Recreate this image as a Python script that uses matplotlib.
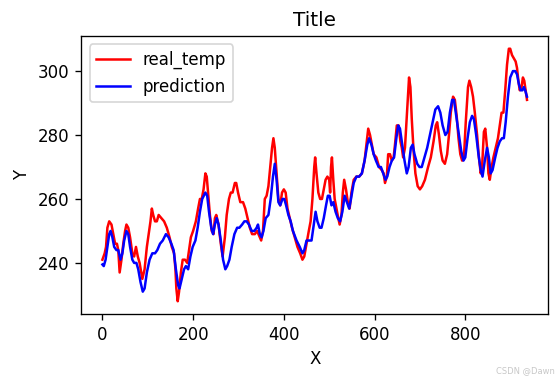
import matplotlib
matplotlib.use('Agg')
import matplotlib.pyplot as plt

# values (x index, temperature)
real_x = [0, 5, 8, 11, 15, 20, 24, 28, 32, 35,
          38, 42, 46, 50, 53, 57, 61, 66, 70, 74,
          78, 82, 88, 93, 98, 103, 106, 109, 112, 116,
          120, 124, 130, 136, 142, 148, 153, 158, 161, 163,
          166, 169, 173, 177, 182, 187, 191, 195, 200, 206,
          211, 215, 219, 223, 227, 230, 233, 237, 241, 245,
          248, 251, 256, 261, 265, 270, 274, 279, 283, 287,
          292, 295, 299, 304, 310, 315, 320, 325, 330, 336,
          341, 347, 350, 354, 358, 362, 366, 370, 374, 377,
          380, 384, 388, 392, 396, 400, 404, 408, 413, 418,
          424, 430, 436, 441, 445, 450, 455, 459, 463, 467,
          469, 472, 476, 480, 484, 488, 492, 496, 500, 502,
          504, 506, 509, 512, 516, 520, 523, 527, 530, 533,
          537, 541, 545, 549, 554, 560, 566, 572, 578, 582,
          586, 590, 594, 598, 604, 610, 616, 620, 623, 627,
          630, 634, 638, 642, 645, 649, 653, 657, 660, 663,
          667, 672, 676, 679, 682, 686, 690, 695, 700, 705,
          711, 718, 724, 730, 735, 738, 742, 746, 750, 755,
          760, 764, 768, 773, 777, 781, 785, 789, 793, 797,
          801, 806, 809, 813, 817, 821, 826, 830, 834, 837,
          841, 844, 848, 851, 854, 858, 862, 867, 872, 876,
          880, 884, 888, 892, 896, 899, 903, 907, 911, 914,
          917, 920, 924, 927, 930, 933, 936]
real_temp = [241, 243, 245, 251, 253, 252, 249, 246, 246, 244,
             237, 241, 246, 250, 252, 251, 248, 243, 242, 245,
             242, 240, 235, 238, 245, 250, 253, 257, 255, 253,
             253, 255, 254, 253, 251, 248, 245, 243, 238, 232,
             228, 231, 237, 241, 241, 240, 244, 248, 250, 253,
             257, 260, 260, 263, 268, 267, 262, 255, 250, 249,
             254, 255, 252, 246, 242, 248, 255, 260, 262, 262,
             265, 265, 262, 259, 259, 257, 254, 251, 249, 249,
             250, 248, 247, 250, 260, 261, 264, 270, 276, 279,
             276, 268, 260, 258, 262, 263, 262, 257, 254, 251,
             248, 245, 243, 241, 242, 246, 250, 253, 260, 270,
             273, 268, 262, 260, 260, 263, 266, 267, 266, 262,
             270, 273, 266, 260, 257, 254, 252, 255, 262, 266,
             263, 259, 257, 262, 266, 267, 267, 268, 272, 277,
             282, 280, 277, 274, 273, 270, 269, 268, 265, 267,
             274, 274, 272, 273, 277, 283, 283, 278, 276, 273,
             276, 288, 298, 295, 285, 275, 268, 264, 263, 264,
             266, 270, 273, 278, 283, 284, 280, 275, 272, 271,
             274, 280, 287, 292, 291, 286, 279, 274, 272, 273,
             284, 295, 297, 295, 292, 287, 280, 273, 268, 270,
             281, 282, 276, 268, 266, 270, 273, 276, 279, 283,
             287, 287, 294, 302, 307, 307, 305, 304, 303, 301,
             297, 294, 295, 298, 297, 294, 291]

pred_x = [0, 3, 7, 11, 15, 18, 22, 26, 31, 35,
          40, 44, 48, 53, 57, 61, 66, 70, 75, 79,
          84, 89, 93, 98, 104, 110, 116, 121, 127, 133,
          140, 146, 152, 157, 162, 167, 170, 175, 180, 184,
          189, 194, 199, 205, 210, 215, 220, 227, 231, 235,
          240, 244, 248, 252, 256, 261, 266, 271, 275, 280,
          285, 291, 297, 302, 308, 313, 318, 323, 329, 335,
          340, 343, 347, 351, 355, 360, 366, 371, 376, 380,
          384, 388, 392, 397, 401, 405, 410, 415, 420, 428,
          435, 441, 445, 450, 456, 461, 466, 470, 474, 479,
          483, 488, 493, 497, 501, 505, 509, 514, 519, 524,
          529, 534, 539, 544, 548, 554, 560, 566, 572, 578,
          584, 588, 593, 598, 603, 609, 614, 619, 624, 628,
          633, 638, 643, 648, 652, 656, 661, 666, 671, 675,
          680, 684, 688, 694, 699, 704, 710, 716, 722, 728,
          734, 740, 745, 750, 756, 761, 766, 771, 775, 780,
          786, 791, 796, 800, 805, 810, 815, 819, 824, 829,
          834, 838, 843, 848, 852, 856, 860, 866, 871, 876,
          881, 885, 889, 894, 899, 905, 910, 914, 918, 922,
          926, 929, 932, 936]
prediction = [239.5, 239, 241, 245, 249, 250, 248, 245, 244, 244,
              241, 243, 247, 250, 249, 245, 241, 240, 240, 238,
              234, 231, 232, 237, 241, 243, 243, 244, 246, 247,
              249, 248, 246, 244, 238, 233, 232, 235, 238, 239,
              238, 242, 245, 247, 251, 256, 260, 262, 261, 256,
              251, 249, 252, 254, 252, 247, 241, 238, 239, 241,
              245, 249, 251, 251, 252, 253, 253, 252, 250, 250,
              251, 252, 249, 248, 250, 254, 255, 260, 267, 271,
              266, 259, 258, 260, 260, 258, 255, 253, 250, 247,
              245, 243, 244, 247, 247, 247, 252, 256, 253, 251,
              251, 254, 258, 261, 261, 258, 259, 256, 254, 253,
              256, 261, 259, 257, 260, 265, 267, 267, 268, 272,
              277, 279, 277, 274, 272, 270, 270, 268, 266, 267,
              270, 272, 273, 279, 283, 282, 277, 272, 268, 270,
              276, 277, 274, 271, 270, 270, 273, 276, 280, 284,
              288, 289, 287, 283, 280, 281, 287, 291, 291, 286,
              280, 275, 272, 273, 279, 284, 286, 285, 280, 274,
              269, 267, 272, 276, 273, 268, 269, 273, 276, 278,
              279, 279, 284, 292, 298, 300, 300, 299, 296, 294,
              294, 295, 294, 292]

# reference looks like a 120 dpi render, so scale everything that way
fig = plt.figure(figsize=(556 / 120, 380 / 120), dpi=120)
ax = fig.add_axes([0.146, 0.174, 0.84, 0.731])

ax.plot(real_x, real_temp, color='r', label='real_temp')
ax.plot(pred_x, prediction, color='b', label='prediction')

ax.set_title('Title')
ax.set_xlabel('X')
ax.set_ylabel('Y')
ax.legend(loc='upper left')

# watermark from the source image
fig.text(0.998, 0.012, 'CSDN @Dawn', ha='right', va='bottom',
         fontsize=5, color='#c8c8c8')

fig.savefig('out.png', dpi=120)
